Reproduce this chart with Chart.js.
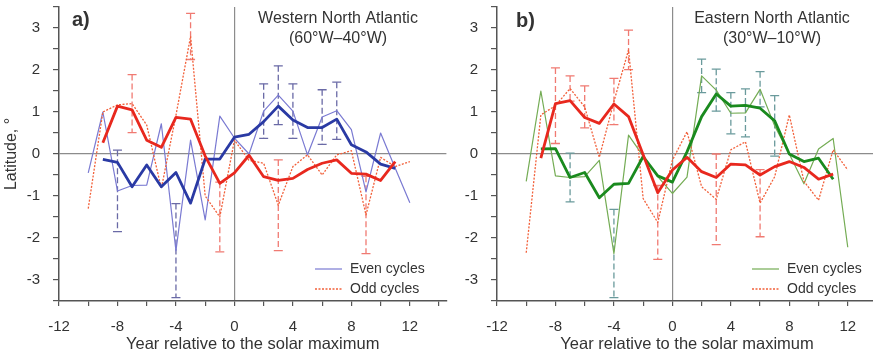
<!DOCTYPE html>
<html>
<head>
<meta charset="utf-8">
<script src="https://cdn.jsdelivr.net/npm/chart.js@4.4.1/dist/chart.umd.min.js"></script>
<style>
html, body { margin: 0; padding: 0; background: #fff; overflow: hidden; width: 873px; height: 356px; }
canvas { position: absolute; top: 0; }
#chartA { left: 0; }
#chartB { left: 440px; }
</style>
</head>
<body>
<canvas id="chartA" width="450" height="356"></canvas>
<canvas id="chartB" width="440" height="356"></canvas>
<script>
// x values: single years relative to solar maximum
const yearsThin  = [-10, -9, -8, -7, -6, -5, -4, -3, -2, -1, 0, 1, 2, 3, 4, 5, 6, 7, 8, 9, 10, 11, 12];
const yearsThick = [-9, -8, -7, -6, -5, -4, -3, -2, -1, 0, 1, 2, 3, 4, 5, 6, 7, 8, 9, 10, 11];
const xTickLabels = [-12, -8, -4, 0, 4, 8, 12];
const yTickLabels = [-3, -2, -1, 0, 1, 2, 3];

// a) Western North Atlantic (60W-40W)
const evenA       = [-0.45, 1.0, -0.88, -0.75, -0.74, 0.72, -2.3, 0.33, -1.57, 0.9, 0.38, 0.0, 1.02, 1.4, 1.02, -0.02, 0.88, 1.03, 0.58, -0.9, 0.5, -0.34, -1.16];
const evenSmoothA = [-0.13, -0.2, -0.78, -0.26, -0.78, -0.44, -1.17, -0.12, -0.12, 0.4, 0.47, 0.77, 1.14, 0.81, 0.63, 0.63, 0.83, 0.22, 0.05, -0.24, -0.34];
const oddA        = [-1.3, 1.0, 1.17, 1.2, 0.69, -0.82, 0.92, 2.8, -1.0, -1.5, 0.33, -0.15, -0.22, -1.22, -0.3, -0.02, -0.5, -0.02, 0.08, -1.45, -0.08, -0.3, -0.18];
const oddSmoothA  = [0.27, 1.14, 1.05, 0.33, 0.16, 0.87, 0.83, -0.05, -0.7, -0.45, -0.03, -0.54, -0.63, -0.58, -0.37, -0.22, -0.14, -0.46, -0.48, -0.63, -0.18];
const evenErrYearsA = [-8, -4, 2, 3, 4, 6, 7];
const evenErrA      = [0.97, 1.12, 0.65, 0.7, 0.65, 0.65, 0.68];
const oddErrYearsA  = [-7, -3, -1, 3, 9];
const oddErrA       = [0.69, 0.55, 0.83, 1.08, 0.92];

// b) Eastern North Atlantic (30W-10W)
const evenB       = [-0.65, 1.5, -0.52, -0.56, -0.54, -0.15, -2.37, 0.45, -0.05, -0.54, -0.94, -0.55, 1.86, 1.52, 0.97, 0.98, 1.54, 0.67, 0.0, -0.71, 0.12, 0.37, -2.22];
const evenSmoothB = [0.12, 0.13, -0.56, -0.44, -1.04, -0.72, -0.7, -0.06, -0.52, -0.67, 0.05, 0.89, 1.43, 1.14, 1.16, 1.09, 0.79, 0.0, -0.18, -0.1, -0.6];
const oddB        = [-2.35, 0.93, 1.15, 1.56, 1.12, -0.08, 1.25, 2.48, -1.06, -1.63, -0.15, 0.53, -0.78, -1.08, 0.1, 0.29, -1.17, -0.54, 0.93, -0.65, -1.1, 0.1, -0.38];
const oddSmoothB  = [-0.1, 1.2, 1.27, 0.87, 0.73, 1.19, 0.89, -0.02, -0.92, -0.38, -0.08, -0.42, -0.56, -0.24, -0.26, -0.5, -0.3, -0.18, -0.32, -0.6, -0.48];
const evenErrYearsB = [-7, -4, 2, 3, 4, 5, 6, 7];
const evenErrB      = [0.58, 1.05, 0.4, 0.5, 0.49, 0.57, 0.42, 0.72];
const oddErrYearsB  = [-8, -7, -6, -4, -3, -1, 3, 6];
const oddErrB       = [0.9, 0.3, 0.5, 0.55, 0.47, 0.88, 1.08, 0.8];

const FONT = "'Liberation Sans', Arial, sans-serif";
const TEXT = '#333';

function pts(xs, ys) {
    return xs.map((x, i) => ({ x: x, y: ys[i] }));
}

// dashed error bars, legend in the corner and panel labels
const panelDecor = {
    id: 'panelDecor',
    beforeDatasetsDraw(chart, args, opts) {
        const ctx = chart.ctx, xs = chart.scales.x, ys = chart.scales.y;
        (opts.errorBars || []).forEach(set => {
            ctx.save();
            ctx.strokeStyle = set.color;
            ctx.lineWidth = 1.3;
            set.years.forEach((yr, i) => {
                const c = set.values[set.baseYears.indexOf(yr)];
                const px = xs.getPixelForValue(yr);
                const top = ys.getPixelForValue(c + set.errs[i]);
                const bot = ys.getPixelForValue(c - set.errs[i]);
                ctx.setLineDash([6, 3]);
                ctx.beginPath(); ctx.moveTo(px, top); ctx.lineTo(px, bot); ctx.stroke();
                ctx.setLineDash([]);
                ctx.beginPath();
                ctx.moveTo(px - 4.5, top); ctx.lineTo(px + 4.5, top);
                ctx.moveTo(px - 4.5, bot); ctx.lineTo(px + 4.5, bot);
                ctx.stroke();
            });
            ctx.restore();
        });
    },
    afterDraw(chart, args, opts) {
        const ctx = chart.ctx;
        ctx.save();
        ctx.fillStyle = TEXT;
        ctx.textBaseline = 'middle';
        (opts.labels || []).forEach(l => {
            ctx.font = l.font;
            ctx.textAlign = l.align || 'left';
            ctx.fillText(l.text, l.x, l.y);
        });
        const lg = opts.legend;
        if (lg) {
            lg.items.forEach((it, i) => {
                const ds = chart.data.datasets[it.dataset];
                const y = lg.y + i * lg.gap;
                ctx.strokeStyle = ds.borderColor;
                ctx.lineWidth = ds.borderWidth;
                ctx.setLineDash(ds.borderDash || []);
                ctx.beginPath(); ctx.moveTo(lg.x, y); ctx.lineTo(lg.x + 27, y); ctx.stroke();
                ctx.setLineDash([]);
                ctx.font = '14px ' + FONT;
                ctx.textAlign = 'left';
                ctx.fillText(it.text, lg.x + 35, y);
            });
        }
        ctx.restore();
    }
};

function makePanel(id, p) {
    const zeroGrid = c => (c.tick && c.tick.value === 0) ? '#8c8c8c' : 'rgba(0,0,0,0)';
    return new Chart(document.getElementById(id), {
        type: 'line',
        data: {
            datasets: [
                { label: 'Even cycles', data: pts(yearsThin, p.even), borderColor: p.evenColor, borderWidth: 1.2, order: 4 },
                { label: 'Odd cycles', data: pts(yearsThin, p.odd), borderColor: '#f2603a', borderWidth: 1.3, borderDash: [2, 1.5], order: 3 },
                { label: 'Even smoothed', data: pts(yearsThick, p.evenSmooth), borderColor: p.evenThick, borderWidth: 2.8, order: 2 },
                { label: 'Odd smoothed', data: pts(yearsThick, p.oddSmooth), borderColor: '#e8281e', borderWidth: 2.8, order: 1 }
            ]
        },
        options: {
            responsive: false,
            animation: false,
            devicePixelRatio: 1,
            elements: { point: { radius: 0 }, line: { tension: 0, borderJoinStyle: 'round' } },
            layout: { padding: { top: 7, right: p.padRight, left: 0, bottom: 0 } },
            plugins: {
                legend: { display: false },
                tooltip: { enabled: false },
                panelDecor: {
                    errorBars: [
                        { years: p.evenErrYears, errs: p.evenErr, baseYears: yearsThin, values: p.even, color: p.errColor },
                        { years: p.oddErrYears, errs: p.oddErr, baseYears: yearsThin, values: p.odd, color: '#f07a72' }
                    ],
                    labels: p.labels,
                    legend: { x: p.legendX, y: 269, gap: 20, items: [{ text: 'Even cycles', dataset: 0 }, { text: 'Odd cycles', dataset: 1 }] }
                }
            },
            scales: {
                x: {
                    type: 'linear',
                    min: -12,
                    max: p.xMax,
                    afterFit: s => { s.height = 55; s.paddingLeft = 0; s.paddingRight = 0; },
                    ticks: {
                        stepSize: 2,
                        includeBounds: false,
                        autoSkip: false,
                        maxRotation: 0,
                        padding: 12,
                        color: TEXT,
                        font: { family: FONT, size: 15 },
                        callback: v => xTickLabels.includes(v) ? String(v) : ''
                    },
                    grid: { color: zeroGrid, tickColor: '#555', tickLength: 5, lineWidth: 1.2 },
                    border: { color: '#555', width: 1.5 },
                    title: {
                        display: true,
                        text: 'Year relative to the solar maximum',
                        color: TEXT,
                        font: { family: FONT, size: 16.5 },
                        padding: { top: 0, bottom: 2 }
                    }
                },
                y: {
                    min: -3.5,
                    max: 3.5,
                    afterFit: s => { s.width = p.yWidth; s.paddingTop = 0; s.paddingBottom = 0; },
                    ticks: {
                        stepSize: 0.5,
                        includeBounds: false,
                        autoSkip: false,
                        padding: 13,
                        color: TEXT,
                        font: { family: FONT, size: 15 },
                        callback: v => yTickLabels.includes(v) ? String(v) : ''
                    },
                    grid: { color: zeroGrid, tickColor: '#555', tickLength: 6, lineWidth: 1.2 },
                    border: { color: '#555', width: 1.5 },
                    title: {
                        display: p.yTitle,
                        text: 'Latitude, °',
                        color: TEXT,
                        font: { family: FONT, size: 16 },
                        padding: { top: 2, bottom: 0 }
                    }
                }
            }
        },
        plugins: [panelDecor]
    });
}

makePanel('chartA', {
    even: evenA, odd: oddA, evenSmooth: evenSmoothA, oddSmooth: oddSmoothA,
    evenErrYears: evenErrYearsA, evenErr: evenErrA, oddErrYears: oddErrYearsA, oddErr: oddErrA,
    evenColor: '#7a7ad2', evenThick: '#2a3aa4', errColor: '#6a6aa6',
    xMax: 14.5, padRight: 3.6, yWidth: 59, yTitle: true, legendX: 315,
    labels: [
        { text: 'a)', x: 72, y: 20, font: 'bold 20px ' + FONT },
        { text: 'Western North Atlantic', x: 338, y: 19, align: 'center', font: '16px ' + FONT },
        { text: '(60°W–40°W)', x: 338, y: 39, align: 'center', font: '16px ' + FONT }
    ]
});

makePanel('chartB', {
    even: evenB, odd: oddB, evenSmooth: evenSmoothB, oddSmooth: oddSmoothB,
    evenErrYears: evenErrYearsB, evenErr: evenErrB, oddErrYears: oddErrYearsB, oddErr: oddErrB,
    evenColor: '#74ac54', evenThick: '#1a8a1e', errColor: '#6a9a9c',
    xMax: 14, padRight: 3, yWidth: 57, yTitle: false, legendX: 752 - 440,
    labels: [
        { text: 'b)', x: 516 - 440, y: 21, font: 'bold 20px ' + FONT },
        { text: 'Eastern North Atlantic', x: 772 - 440, y: 19, align: 'center', font: '16px ' + FONT },
        { text: '(30°W–10°W)', x: 772 - 440, y: 39, align: 'center', font: '16px ' + FONT }
    ]
});
</script>
</body>
</html>
